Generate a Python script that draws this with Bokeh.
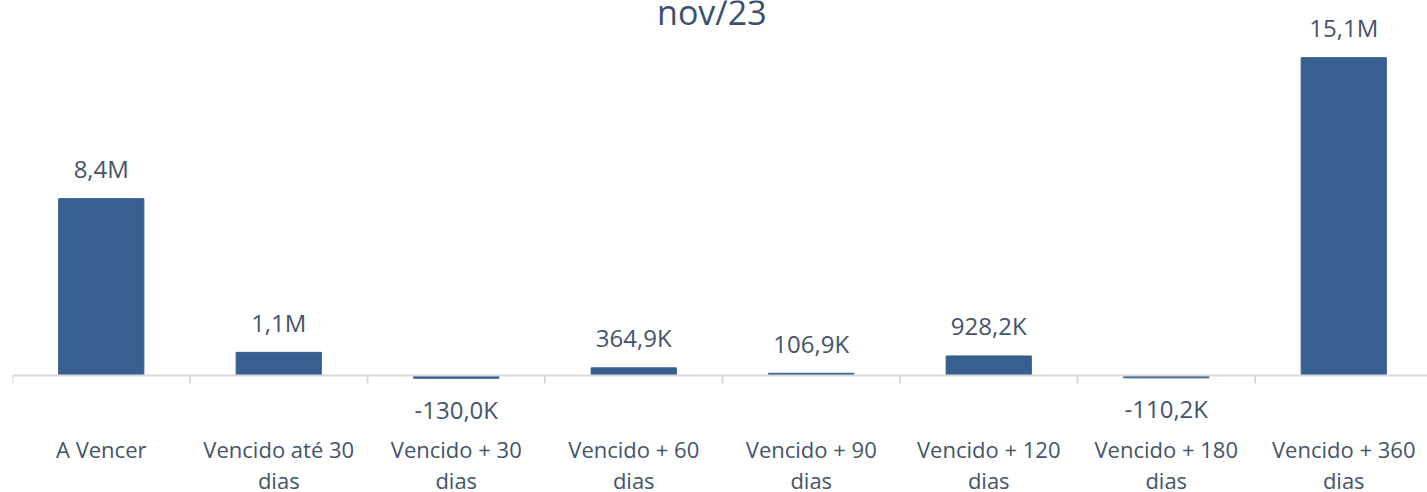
import math
from bokeh.plotting import figure
from bokeh.models import ColumnDataSource, Range1d, Span
from bokeh.core.properties import value
from bokeh.embed import file_html
from bokeh.resources import INLINE

title_text = "nov/23"
categories = ["A Vencer", "Vencido até 30 dias", "Vencido + 30 dias", "Vencido + 60 dias",
              "Vencido + 90 dias", "Vencido + 120 dias", "Vencido + 180 dias", "Vencido + 360 dias"]
values = [8.4e6, 1.1e6, -130.0e3, 364.9e3, 106.9e3, 928.2e3, -110.2e3, 15.1e6]

BAR = "#375F8F"
TXT = "#44546A"
FONT = "Open Sans"


def fmt(v):
    if abs(v) >= 1e6:
        s = f"{v / 1e6:.1f}M"
    else:
        s = f"{v / 1e3:.1f}K"
    return s.replace(".", ",")


def wrap(c):
    if c.endswith(" dias"):
        return c[:-5] + "\ndias"
    return c


n = len(categories)
xs = [i + 0.5 for i in range(n)]
src = ColumnDataSource(dict(
    x=xs,
    top=values,
    lab=[fmt(v) for v in values],
    off=[-30 if v >= 0 else 31 for v in values],
    cat=[wrap(c) for c in categories],
))

px_per_unit = 21.05e-6
axis_px = 375.0
W = 1427
H = 492
LEFT = 12
y1 = axis_px / px_per_unit
y0 = -(H - axis_px) / px_per_unit
x_end = (W - LEFT) / 177.5

p = figure(width=W, height=H, output_backend="svg", toolbar_location=None,
           x_range=Range1d(0, x_end), y_range=Range1d(y0, y1),
           min_border_left=LEFT, min_border_right=0, min_border_top=0, min_border_bottom=0)
p.xaxis.visible = False
p.yaxis.visible = False
p.xgrid.visible = False
p.ygrid.visible = False
p.outline_line_color = None
p.background_fill_color = "white"
p.border_fill_color = "white"

p.vbar(x="x", top="top", bottom=0, width=0.48, source=src, fill_color=BAR, line_color=BAR)

p.add_layout(Span(location=0, dimension="width", line_color="#D9D9D9", line_width=2))
p.ray(x=list(range(n + 1)), y=[0] * (n + 1), length=8, length_units="screen",
      angle=-math.pi / 2, line_color="#D9D9D9", line_width=2)

p.text(x="x", y="top", text="lab", y_offset="off", source=src, text_align="center",
       text_baseline="middle", text_font=value(FONT), text_font_size="24px", text_color=TXT)

p.text(x="x", y=0, text="cat", y_offset=58, source=src, text_align="center",
       text_baseline="top", text_font=value(FONT), text_font_size="22px", text_color=TXT,
       text_line_height=1.05)

p.text(x=[3.94], y=[y1], text=[title_text], y_offset=11, text_align="center",
       text_baseline="alphabetic", text_font=value(FONT), text_font_size="34px", text_color="#3A5070")

open("out.html", "w").write(file_html(p, INLINE))
